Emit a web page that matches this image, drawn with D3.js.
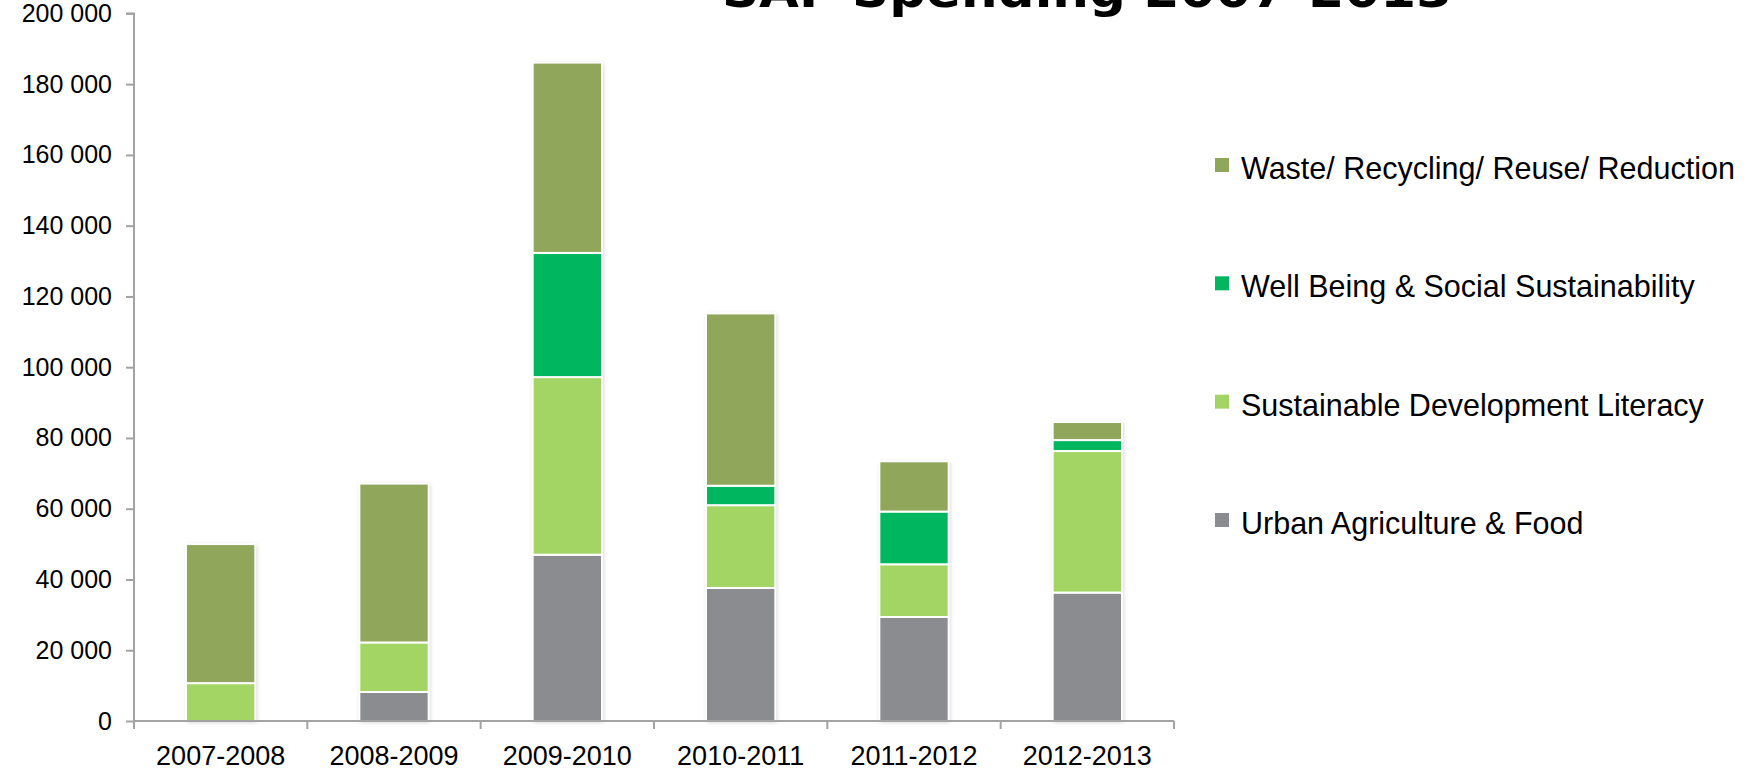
<!DOCTYPE html>
<html>
<head>
<meta charset="utf-8">
<script src="https://cdn.jsdelivr.net/npm/d3@7"></script>
<style>
  html, body { margin: 0; padding: 0; background: #fff; overflow: hidden; }
  svg { display: block; }
</style>
</head>
<body>
<svg id="chart" width="1756" height="771"></svg>
<script>
const title = "SAF Spending 2007-2013";
const categories = ["2007-2008", "2008-2009", "2009-2010", "2010-2011", "2011-2012", "2012-2013"];
const seriesNames = ["Urban Agriculture & Food", "Sustainable Development Literacy", "Well Being & Social Sustainability", "Waste/ Recycling/ Reuse/ Reduction"];
const urban     = [0,     8200,  47000, 37600, 29400, 36300];
const literacy  = [10700, 14000, 50200, 23400, 14900, 40000];
const wellbeing = [0,     0,     35100, 5500,  14900, 3100];
const waste     = [39300, 44900, 53800, 48700, 14200, 5100];
const colors = ["#8b8c90", "#a2d563", "#00b760", "#8fa65b"];
const yTicks = [0, 20000, 40000, 60000, 80000, 100000, 120000, 140000, 160000, 180000, 200000];

const svg = d3.select("#chart");
const margin = {left: 134, right: 1174, top: 13.4, bottom: 721};

const x = d3.scaleBand().domain(categories).range([margin.left, margin.right]).paddingInner(0.6).paddingOuter(0.3);
const xEdges = d3.scaleLinear().domain([0, categories.length]).range([margin.left, margin.right]);
const y = d3.scaleLinear().domain([0, 200000]).range([margin.bottom, margin.top]);

const defs = svg.append("defs");
const f = defs.append("filter").attr("id", "shadow").attr("x", "-20%").attr("y", "-5%").attr("width", "140%").attr("height", "110%");
f.append("feDropShadow").attr("dx", 1).attr("dy", 1).attr("stdDeviation", 2.2).attr("flood-color", "#000").attr("flood-opacity", 0.22);

// Title (partly cut off at the top, as in the reference)
svg.append("text")
  .attr("x", 722).attr("y", 7)
  .attr("font-family", "'DejaVu Sans', sans-serif")
  .attr("font-weight", "bold")
  .attr("font-size", 48)
  .attr("textLength", 730)
  .attr("lengthAdjust", "spacingAndGlyphs")
  .attr("fill", "#000")
  .text(title);

// Stacked data
const rows = categories.map((c, i) => ({cat: c, s0: urban[i], s1: literacy[i], s2: wellbeing[i], s3: waste[i]}));
const stack = d3.stack().keys(["s0", "s1", "s2", "s3"]);
const layers = stack(rows);

const barsG = svg.append("g");
barsG.selectAll("rect.sh").data(rows).join("rect")
  .attr("class", "sh")
  .attr("x", d => x(d.cat))
  .attr("width", x.bandwidth())
  .attr("y", d => y(d.s0 + d.s1 + d.s2 + d.s3))
  .attr("height", d => y(0) - y(d.s0 + d.s1 + d.s2 + d.s3))
  .attr("fill", "#fff")
  .attr("filter", "url(#shadow)");

layers.forEach((layer, li) => {
  barsG.append("g").selectAll("rect").data(layer.filter(d => d[1] - d[0] > 0)).join("rect")
    .attr("x", d => x(d.data.cat))
    .attr("width", x.bandwidth())
    .attr("y", d => y(d[1]))
    .attr("height", d => y(d[0]) - y(d[1]))
    .attr("fill", colors[li])
    .attr("stroke", "#fff")
    .attr("stroke-width", 2);
});

// Y axis
const yAxis = d3.axisLeft(y).tickValues(yTicks).tickSize(8).tickPadding(14)
  .tickFormat(d => d3.format(",")(d).replace(/,/g, " "));
const yg = svg.append("g").attr("transform", `translate(${margin.left},0)`).call(yAxis);
yg.select(".domain").attr("stroke", "#a3a3a3").attr("stroke-width", 2).attr("d", `M-8,${margin.top}H0V${margin.bottom}`);
yg.selectAll(".tick line").attr("stroke", "#a3a3a3").attr("stroke-width", 2);
yg.selectAll(".tick text")
  .attr("font-family", "'Liberation Sans', Arial, sans-serif")
  .attr("font-size", 25)
  .attr("fill", "#000");

// X axis
const xg = svg.append("g").attr("transform", `translate(0,${margin.bottom})`);
xg.append("line").attr("x1", margin.left).attr("x2", margin.right).attr("stroke", "#a3a3a3").attr("stroke-width", 2);
xg.selectAll("line.t").data(d3.range(categories.length + 1)).join("line")
  .attr("class", "t")
  .attr("x1", d => xEdges(d)).attr("x2", d => xEdges(d))
  .attr("y1", 0).attr("y2", 8)
  .attr("stroke", "#a3a3a3").attr("stroke-width", 2);
xg.selectAll("text").data(categories).join("text")
  .attr("x", d => x(d) + x.bandwidth() / 2)
  .attr("y", 44)
  .attr("text-anchor", "middle")
  .attr("font-family", "'Liberation Sans', Arial, sans-serif")
  .attr("font-size", 27)
  .attr("fill", "#000")
  .text(d => d);

// Legend (reverse order: top = last series)
const legendOrder = [3, 2, 1, 0];
const legendY = d3.scalePoint().domain(legendOrder).range([168, 523]);
const lg = svg.append("g");
const items = lg.selectAll("g").data(legendOrder).join("g")
  .attr("transform", d => `translate(1215,${legendY(d)})`);
items.append("rect").attr("x", 0).attr("y", -10).attr("width", 14).attr("height", 14).attr("fill", d => colors[d]);
items.append("text")
  .attr("x", 26).attr("y", 11)
  .attr("font-family", "'Liberation Sans', Arial, sans-serif")
  .attr("font-size", 30.5)
  .attr("fill", "#000")
  .text(d => seriesNames[d]);
</script>
</body>
</html>
